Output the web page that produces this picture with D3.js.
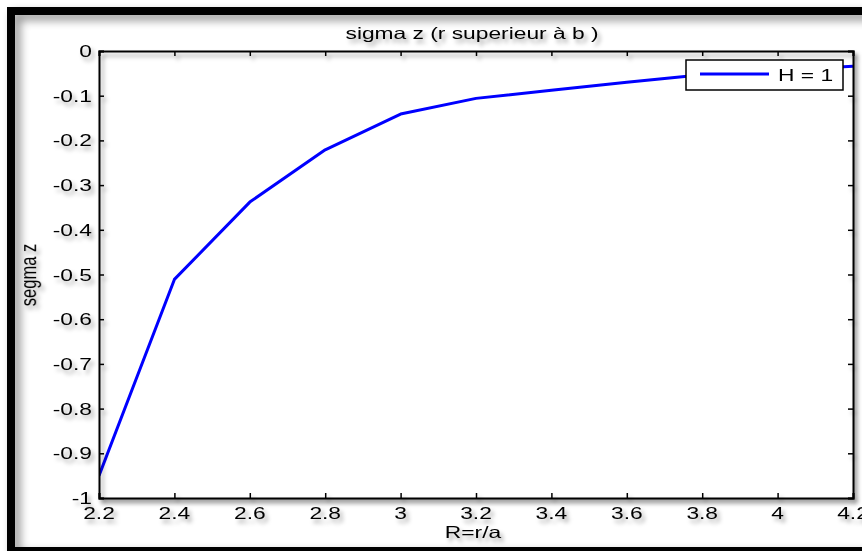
<!DOCTYPE html>
<html>
<head>
<meta charset="utf-8">
<script src="https://cdn.jsdelivr.net/npm/d3@7"></script>
<style>
  html, body { margin: 0; padding: 0; background: #fff; }
  svg { display: block; }
  text { font-family: "Liberation Sans", Arial, Helvetica, sans-serif; fill: #000; }
</style>
</head>
<body>
<svg id="chart" width="862" height="551"></svg>
<script>
// ---- data ----
const titleText = "sigma z (r superieur à b )";
const xLabelText = "R=r/a";
const yLabelText = "segma z";
const seriesName = "H = 1";
const rValues = [2.2, 2.4, 2.6, 2.8, 3.0, 3.2, 3.4, 3.6, 3.8, 4.0, 4.2];
const sigmaZ  = [-0.950, -0.511, -0.338, -0.221, -0.141, -0.106, -0.088, -0.070, -0.053, -0.043, -0.034];
const xTicks = [2.2, 2.4, 2.6, 2.8, 3.0, 3.2, 3.4, 3.6, 3.8, 4.0, 4.2];
const xTickLabels = ["2.2", "2.4", "2.6", "2.8", "3", "3.2", "3.4", "3.6", "3.8", "4", "4.2"];
const yTicks = [0, -0.1, -0.2, -0.3, -0.4, -0.5, -0.6, -0.7, -0.8, -0.9, -1];
const yTickLabels = ["0", "-0.1", "-0.2", "-0.3", "-0.4", "-0.5", "-0.6", "-0.7", "-0.8", "-0.9", "-1"];

// ---- layout ----
const W = 862, H = 551;
const plot = { left: 99, right: 853, top: 51, bottom: 498 };
const SX = 1.38;      // horizontal stretch of glyphs in the reference
const FS = 16.5;

const svg = d3.select("#chart");
const defs = svg.append("defs");
const sh = defs.append("filter").attr("id", "shadow")
  .attr("x", "-20%").attr("y", "-20%").attr("width", "150%").attr("height", "150%");
sh.append("feDropShadow").attr("dx", 3).attr("dy", 4).attr("stdDeviation", 2.2)
  .attr("flood-color", "#000").attr("flood-opacity", 0.35);
const shF = defs.append("filter").attr("id", "frameShadow")
  .attr("x", "-10%").attr("y", "-10%").attr("width", "130%").attr("height", "130%");
shF.append("feDropShadow").attr("dx", 5).attr("dy", 5).attr("stdDeviation", 5)
  .attr("flood-color", "#000").attr("flood-opacity", 0.45);

svg.append("rect").attr("width", W).attr("height", H).attr("fill", "#fff");

// outer frame
svg.append("rect")
  .attr("x", 11).attr("y", 11).attr("width", 870).attr("height", 540)
  .attr("fill", "none").attr("stroke", "#000").attr("stroke-width", 8)
  .attr("filter", "url(#frameShadow)");

const x = d3.scaleLinear().domain([2.2, 4.2]).range([plot.left, plot.right]);
const y = d3.scaleLinear().domain([-1, 0]).range([plot.bottom, plot.top]);

function stretchedText(g, tx, ty, str, anchor, rot) {
  return g.append("text")
    .attr("transform", `translate(${tx},${ty}) scale(${SX},1)` + (rot ? ` rotate(${rot})` : ""))
    .attr("text-anchor", anchor)
    .attr("font-size", FS)
    .text(str);
}

const deco = svg.append("g").attr("filter", "url(#shadow)");

// plot box white background
deco.append("rect")
  .attr("x", plot.left).attr("y", plot.top)
  .attr("width", plot.right - plot.left).attr("height", plot.bottom - plot.top)
  .attr("fill", "#fff").attr("stroke", "none");

// data line (clipped to plot)
defs.append("clipPath").attr("id", "clip").append("rect")
  .attr("x", plot.left).attr("y", plot.top)
  .attr("width", plot.right - plot.left).attr("height", plot.bottom - plot.top);

const line = d3.line().x((d, i) => x(rValues[i])).y(d => y(d));
svg.append("path").datum(sigmaZ)
  .attr("d", line)
  .attr("fill", "none").attr("stroke", "#0000ff").attr("stroke-width", 3)
  .attr("stroke-linejoin", "round")
  .attr("clip-path", "url(#clip)");

// axes (inward ticks on all four sides)
const axG = svg.append("g").attr("filter", "url(#shadow)");
const tickLen = 5;
axG.append("g").attr("transform", `translate(0,${plot.bottom})`)
  .call(d3.axisBottom(x).tickValues(xTicks).tickSize(-tickLen).tickFormat(""));
axG.append("g").attr("transform", `translate(0,${plot.top})`)
  .call(d3.axisTop(x).tickValues(xTicks).tickSize(-tickLen).tickFormat(""));
axG.append("g").attr("transform", `translate(${plot.left},0)`)
  .call(d3.axisLeft(y).tickValues(yTicks).tickSize(-tickLen).tickFormat(""));
axG.append("g").attr("transform", `translate(${plot.right},0)`)
  .call(d3.axisRight(y).tickValues(yTicks).tickSize(-tickLen).tickFormat(""));
axG.selectAll(".domain").attr("stroke", "#000").attr("stroke-width", 2);
axG.selectAll(".tick line").attr("stroke", "#000").attr("stroke-width", 1.5);

// tick labels
const labG = svg.append("g").attr("filter", "url(#shadow)");
xTicks.forEach((v, i) => stretchedText(labG, x(v), 519, xTickLabels[i], "middle"));
yTicks.forEach((v, i) => stretchedText(labG, 92, y(v) + 6, yTickLabels[i], "end"));

// title and axis labels
stretchedText(labG, 472, 39, titleText, "middle");
stretchedText(labG, 473, 538, xLabelText, "middle");
stretchedText(labG, 36, 275, yLabelText, "middle", -90);

// legend
const lg = svg.append("g");
lg.append("rect")
  .attr("x", 686).attr("y", 60).attr("width", 157).attr("height", 30)
  .attr("fill", "#fff").attr("stroke", "#000").attr("stroke-width", 1.5);
lg.append("line")
  .attr("x1", 700).attr("x2", 769).attr("y1", 74).attr("y2", 74)
  .attr("stroke", "#0000ff").attr("stroke-width", 3);
stretchedText(lg, 778, 81, seriesName, "start");
</script>
</body>
</html>
